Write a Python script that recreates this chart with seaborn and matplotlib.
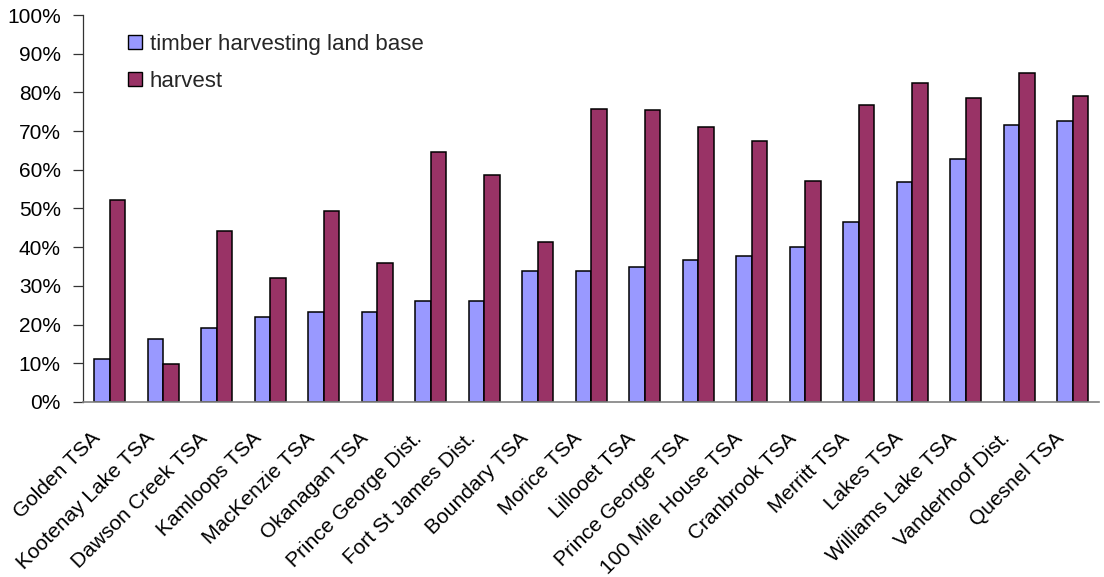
import matplotlib
matplotlib.use("Agg")
import matplotlib.pyplot as plt
from matplotlib.ticker import PercentFormatter, MultipleLocator
from matplotlib.patches import Patch
from matplotlib.transforms import ScaledTranslation
import pandas as pd
import seaborn as sns

units = [
    "Golden TSA", "Kootenay Lake TSA", "Dawson Creek TSA", "Kamloops TSA",
    "MacKenzie TSA", "Okanagan TSA", "Prince George Dist.", "Fort St James Dist.",
    "Boundary TSA", "Morice TSA", "Lillooet TSA", "Prince George TSA",
    "100 Mile House TSA", "Cranbrook TSA", "Merritt TSA", "Lakes TSA",
    "Williams Lake TSA", "Vanderhoof Dist.", "Quesnel TSA",
]
thlb_pct = [11.1, 16.3, 19.0, 21.9, 23.3, 23.3, 26.0, 26.0, 33.9, 33.9,
            34.9, 36.8, 37.7, 40.0, 46.5, 56.8, 62.8, 71.6, 72.5]
harvest_pct = [52.1, 9.7, 44.3, 32.1, 49.4, 35.8, 64.6, 58.7, 41.3, 75.8,
               75.4, 71.1, 67.4, 57.2, 76.7, 82.3, 78.6, 85.1, 79.0]
series_names = ["timber harvesting land base", "harvest"]
colors = ["#9999FF", "#993366"]

df = pd.DataFrame({
    "unit": units * 2,
    "pct": thlb_pct + harvest_pct,
    "series": [series_names[0]] * len(units) + [series_names[1]] * len(units),
})

sns.set_theme(style="white")
plt.rcParams["font.family"] = ["Liberation Sans", "DejaVu Sans"]

FS = 15

fig = plt.figure(figsize=(11.04, 5.77), dpi=100)
ax = fig.add_axes([0.0752, 0.3033, 0.9207, 0.6707])

sns.barplot(data=df, x="unit", y="pct", hue="series", order=units,
            hue_order=series_names, palette=colors, width=0.58, gap=0,
            edgecolor="black", linewidth=1.1, saturation=1, ax=ax,
            legend=False)

ax.set_xlim(-0.5, len(units) - 0.5)
ax.set_ylim(0, 100)
ax.yaxis.set_major_locator(MultipleLocator(10))
ax.yaxis.set_major_formatter(PercentFormatter(decimals=0))
ax.set_xlabel("")
ax.set_ylabel("")

for side in ("top", "right"):
    ax.spines[side].set_visible(False)
ax.spines["left"].set_color("#333333")
ax.spines["left"].set_linewidth(0.9)
ax.spines["bottom"].set_color("#808080")
ax.spines["bottom"].set_linewidth(1.2)

ax.tick_params(axis="y", which="major", left=True, length=7, width=0.9,
               color="#333333", labelsize=FS, pad=9, labelcolor="black")
ax.tick_params(axis="x", bottom=False, labelsize=FS, pad=18,
               labelcolor="black")
# shift the slanted category labels a little to the left of each group
label_shift = ScaledTranslation(-0.12, 0, fig.dpi_scale_trans)
for lbl in ax.get_xticklabels():
    lbl.set_rotation(45)
    lbl.set_ha("right")
    lbl.set_va("center")
    lbl.set_rotation_mode("anchor")
    lbl.set_transform(lbl.get_transform() + label_shift)

handles = [Patch(facecolor=c, edgecolor="black", linewidth=1.0) for c in colors]
fig.legend(handles, series_names, loc="upper left",
           bbox_to_anchor=(128 / 1104, 1 - 34 / 577), frameon=False,
           fontsize=16, borderpad=0, borderaxespad=0,
           handlelength=0.62, handleheight=0.62, handletextpad=0.35,
           labelspacing=0.72)

fig.savefig("out.png", dpi=100)
